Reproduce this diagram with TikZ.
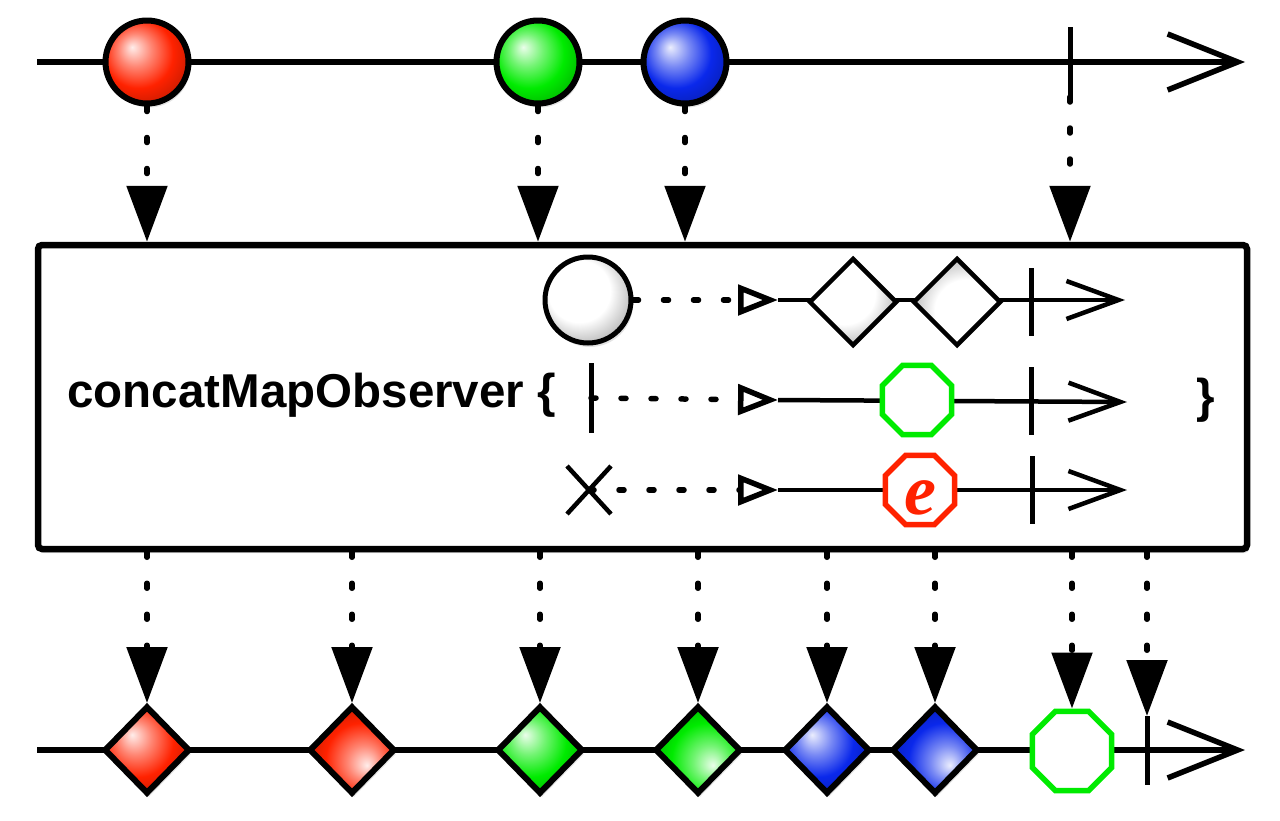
\documentclass[tikz,border=0pt]{standalone}
\usepackage{fontspec}
\setmainfont{Liberation Sans}
\newfontfamily\errfont{Liberation Serif}
\usetikzlibrary{arrows.meta,shapes.geometric,shadows}

\definecolor{rxred}{RGB}{255,34,0}
\definecolor{rxgreen}{RGB}{0,235,0}
\definecolor{rxblue}{RGB}{10,40,235}
\colorlet{gemcol}{rxred}

% shadings for the marbles and the grey inner items
\pgfdeclareradialshading[gemcol]{gem}{\pgfpoint{-9bp}{9bp}}{color(0bp)=(gemcol!8!white); color(10bp)=(gemcol!55!white); color(21bp)=(gemcol); color(34bp)=(gemcol!72!black); color(50bp)=(gemcol!55!black)}
\pgfdeclareradialshading{blank}{\pgfpoint{-8bp}{8bp}}{color(0bp)=(white); color(18bp)=(white); color(33bp)=(black!35); color(50bp)=(black!35)}

\tikzset{
  line/.style={line width=5.5pt},
  chevron/.style={-{Straight Barb[length=70pt,width=56pt,sharp]}},
  smallchevron/.style={line width=4.5pt, -{Straight Barb[length=52pt,width=38pt,sharp]}},
  tickline/.style={line width=5pt},
  shadowed/.style={drop shadow={opacity=0.22, shadow xshift=2pt, shadow yshift=-4pt}},
  gem/.style={/utils/exec={\colorlet{gemcol}{#1}}, shading=gem},
  emit/.style={line width=5.5pt, line cap=round, dash pattern=on 5pt off 26pt,
    -{Triangle[length=56pt,width=40pt]}},
  hop/.style={line width=5.5pt, line cap=round, dash pattern=on 5pt off 25pt,
    -{Triangle[open,length=40pt,width=30pt]}},
  opbox/.style={draw, line width=6.5pt, rounded corners=4pt, fill=white, shadowed},
  marble/.style={circle, draw, line width=6pt, minimum size=83pt, inner sep=0pt, shadowed},
  gemstone/.style={diamond, draw, line width=6pt, minimum width=86pt, minimum height=88pt,
    inner sep=0pt, shadowed},
  husk/.style={diamond, draw, line width=4.5pt, minimum size=88pt, inner sep=0pt, shading=blank},
  pending/.style={regular polygon, regular polygon sides=8, draw=rxgreen, line width=5.5pt,
    minimum size=75pt, inner sep=0pt, fill=white},
  fault/.style={pending, draw=rxred, text=rxred, text height=48pt, text depth=0pt,
    font=\errfont\bfseries\itshape\fontsize{72pt}{72pt}\selectfont},
  word/.style={font=\bfseries\fontsize{47.5pt}{52pt}\selectfont}
}

\begin{document}
\begin{tikzpicture}[x=1pt,y=-1pt]
  \useasboundingbox (0,0) rectangle (1280,820);

  % source
  \coordinate (src0) at (37,62);
  \coordinate (src1) at (1245,62);
  \draw[line, chevron] (src0) -- (src1);
  \node[marble, gem=rxred] (r1) at (147,62) {};
  \node[marble, gem=rxgreen] (g1) at (538,62) {};
  \node[marble, gem=rxblue] (b1) at (685,62) {};
  \coordinate (done1) at (1070,62);
  \draw[tickline] ([yshift=35pt]done1) -- ([yshift=-35pt]done1);

  % operator
  \node[opbox, minimum width=1209pt, minimum height=304pt] (box) at (642.5,397) {};
  \draw[emit] (r1.south) -- (r1 |- box.north);
  \draw[emit] (g1.south) -- (g1 |- box.north);
  \draw[emit] (b1.south) -- (b1 |- box.north);
  \draw[emit] ([yshift=-35pt]done1) -- (done1 |- box.north);

  \node[word, anchor=base west] (label) at (64,407) {concatMapObserver \{};
  \node[word] (rbrace) at (1206,400) {\}};

  % onNext
  \node[marble, line width=5pt, minimum size=86pt, shading=blank, drop shadow={opacity=0}] (inner0) at (588,300) {};
  \coordinate (in1) at (778,300);
  \coordinate (out1) at (1125,300);
  \draw[hop] (inner0.east) -- (in1);
  \draw[smallchevron] (in1) -- (out1);
  \node[husk] (p1) at (853,302) {};
  \node[husk, shading angle=180] (p2) at (957,302) {};
  \coordinate (done2) at (1031,302);
  \draw[tickline] ([yshift=34pt]done2) -- ([yshift=-34pt]done2);

  % onCompleted
  \coordinate (done0) at (591,398);
  \draw[tickline] ([yshift=35pt]done0) -- ([yshift=-35pt]done0);
  \coordinate (in2) at (778,400);
  \coordinate (out2) at (1127,402);
  \draw[hop] (done0) -- (in2);
  \draw[smallchevron] (in2) -- (out2);
  \node[pending] (g2) at (917,400) {};
  \coordinate (done3) at (1031,401);
  \draw[tickline] ([yshift=34pt]done3) -- ([yshift=-34pt]done3);

  % onError
  \coordinate (err0) at (589,490);
  \draw[tickline, line width=4.5pt] ([shift={(-22pt,24pt)}]err0) -- ([shift={(22pt,-24pt)}]err0);
  \draw[tickline, line width=4.5pt] ([shift={(22pt,24pt)}]err0) -- ([shift={(-22pt,-24pt)}]err0);
  \coordinate (in3) at (778,490);
  \coordinate (out3) at (1127,490);
  \draw[hop] (err0) -- (in3);
  \draw[smallchevron] (in3) -- (out3);
  \node[fault] (e1) at (920,490) {e};
  \coordinate (done4) at (1032,490);
  \draw[tickline] ([yshift=34pt]done4) -- ([yshift=-34pt]done4);

  % result
  \coordinate (res0) at (37,750);
  \coordinate (res1) at (1245,750);
  \draw[line, chevron] (res0) -- (res1);
  \node[gemstone, gem=rxred] (d1) at (147,750) {};
  \node[gemstone, gem=rxred, shading angle=180] (d2) at (352,750) {};
  \node[gemstone, gem=rxgreen] (d3) at (540,750) {};
  \node[gemstone, gem=rxgreen, shading angle=180] (d4) at (698,750) {};
  \node[gemstone, gem=rxblue] (d5) at (827,750) {};
  \node[gemstone, gem=rxblue, shading angle=180] (d6) at (935,750) {};
  \node[pending, minimum size=86pt] (g3) at (1072,751) {};
  \coordinate (done5) at (1147,750);
  \draw[tickline] ([yshift=34pt]done5) -- ([yshift=-35pt]done5);

  \draw[emit] (d1 |- box.south) -- (d1.north);
  \draw[emit] (d2 |- box.south) -- (d2.north);
  \draw[emit] (d3 |- box.south) -- (d3.north);
  \draw[emit] (d4 |- box.south) -- (d4.north);
  \draw[emit] (d5 |- box.south) -- (d5.north);
  \draw[emit] (d6 |- box.south) -- (d6.north);
  \draw[emit] (g3 |- box.south) -- (g3.north);
  \draw[emit] (done5 |- box.south) -- ([yshift=34pt]done5);
\end{tikzpicture}
\end{document}
